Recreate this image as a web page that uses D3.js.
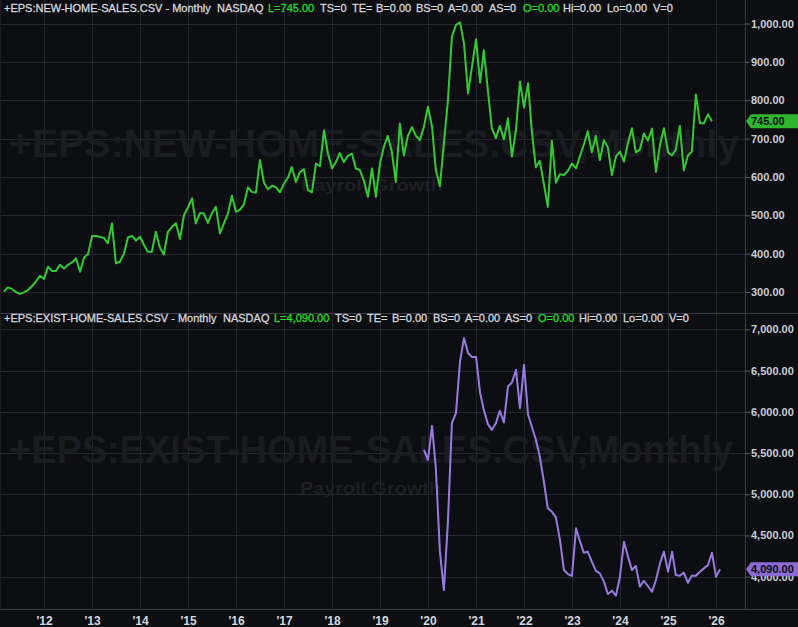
<!DOCTYPE html>
<html><head><meta charset="utf-8">
<script src="https://cdn.jsdelivr.net/npm/d3@7"></script>
<style>
html,body{margin:0;padding:0;background:#0d0e11;}
svg{display:block;}
text{font-family:"Liberation Sans",Arial,sans-serif;}
</style></head>
<body>
<svg id="chart" width="798" height="627"></svg>
<script>
// ---------- DATA ----------
// New home sales, monthly, starting Mar 2011 (thousands, SAAR)
const newHomeStart = [2011, 2];
const newHomeSales = [
  301, 312, 308, 300, 295, 299, 305, 315, 328, 342,
  334, 366, 355, 355, 371, 361, 371, 377, 388, 353, 390, 399,
  446, 446, 444, 441, 427, 479, 375, 379, 401, 442, 446, 434,
  444, 422, 405, 405, 457, 416, 398, 457, 470, 479, 438, 500,
  521, 544, 479, 505, 505, 480, 505, 522, 453, 479, 505, 551,
  509, 515, 528, 573, 561, 559, 644, 585, 568, 577, 573, 560,
  583, 599, 626, 587, 612, 620, 566, 560, 635, 628, 721, 661,
  622, 640, 662, 639, 655, 661, 622, 618, 590, 548, 622, 548,
  636, 680, 707, 666, 587, 739, 656, 707, 730, 707, 696, 731,
  783, 731, 618, 576, 687, 800, 965, 996, 1003, 949, 818, 887,
  959, 846, 930, 826, 727, 701, 733, 698, 753, 653, 723, 849,
  781, 844, 721, 625, 642, 582, 522, 694, 585, 607, 605, 616,
  635, 622, 653, 684, 719, 664, 707, 644, 696, 677, 605, 653,
  666, 640, 687, 727, 664, 671, 713, 695, 726, 613, 684, 727,
  664, 656, 671, 733, 617, 656, 666, 815, 740, 740, 763, 745
];
// Existing home sales, monthly, starting Dec 2019 (thousands, SAAR)
const existStart = [2019, 11];
const existHomeSales = [
  5538,
  5417, 5829, 5316, 4304, 3838, 4667, 5862, 5983, 6610, 6893, 6712, 6663,
  6663, 6226, 6024, 5850, 5781, 5862, 6012, 5870, 6307, 6355, 6509, 6044,
  6570, 5963, 5821, 5660, 5457, 5154, 4830, 4789, 4716, 4450, 4081, 4033,
  4009, 4587, 4437, 4291, 4304, 4182, 4073, 4041, 3940, 3790, 3830, 3769,
  4000, 4425, 4251, 4081, 4130, 3879, 3951, 3887, 3818, 3960, 4163, 4304,
  4061, 4304, 4020, 4012, 4049, 3927, 4012, 4012, 4061, 4101, 4142, 4291,
  4000, 4090
];
const topTicks = [300, 400, 500, 600, 700, 800, 900, 1000];
const botTicks = [4000, 4500, 5000, 5500, 6000, 6500, 7000];
const yearTicks = [2012,2013,2014,2015,2016,2017,2018,2019,2020,2021,2022,2023,2024,2025,2026];
const topHeader = [
  ["+EPS:NEW-HOME-SALES.CSV - Monthly", 4, "w"], ["NASDAQ", 217, "w"], ["L=745.00", 268, "g"],
  ["TS=0", 320, "w"], ["TE=", 352, "w"], ["B=0.00", 376, "w"], ["BS=0", 416, "w"],
  ["A=0.00", 448, "w"], ["AS=0", 489, "w"], ["O=0.00", 523, "g"], ["Hi=0.00", 563, "w"],
  ["Lo=0.00", 607, "w"], ["V=0", 653, "w"]
];
const botHeader = [
  ["+EPS:EXIST-HOME-SALES.CSV - Monthly", 4, "w"], ["NASDAQ", 223, "w"], ["L=4,090.00", 274, "g"],
  ["TS=0", 335, "w"], ["TE=", 367, "w"], ["B=0.00", 392, "w"], ["BS=0", 433, "w"],
  ["A=0.00", 465, "w"], ["AS=0", 505, "w"], ["O=0.00", 538, "g"], ["Hi=0.00", 579, "w"],
  ["Lo=0.00", 623, "w"], ["V=0", 669, "w"]
];

// ---------- LAYOUT ----------
const W = 798, H = 627, AXX = 745;
const topPanel = {y0: 0, y1: 313};
const botPanel = {y0: 314, y1: 609};
const BG = "#0d0e11", GRID = "#24262d", BORDER = "#3a3d45";
const GREEN = "#34c934", PURPLE = "#9a7ae0", TXT = "#d3d7df";

const svg = d3.select("#chart");
svg.append("rect").attr("width", W).attr("height", H).attr("fill", BG);

const x = d3.scaleUtc()
  .domain([new Date(Date.UTC(2012,0,1)), new Date(Date.UTC(2026,0,1))])
  .range([44, 716]);
const yTop = d3.scaleLinear().domain([300, 1000]).range([292, 23.5]);
const yBot = d3.scaleLinear().domain([4000, 7000]).range([576.7, 329.3]);

const newData = newHomeSales.map((v, i) => ({d: new Date(Date.UTC(newHomeStart[0], newHomeStart[1] + i, 1)), v}));
const exData = existHomeSales.map((v, i) => ({d: new Date(Date.UTC(existStart[0], existStart[1] + i, 1)), v}));
const yearDates = yearTicks.map(y => new Date(Date.UTC(y,0,1)));

// clip paths
const defs = svg.append("defs");
defs.append("clipPath").attr("id","clipTop").append("rect")
  .attr("x",0).attr("y",topPanel.y0).attr("width",AXX).attr("height",topPanel.y1-topPanel.y0);
defs.append("clipPath").attr("id","clipBot").append("rect")
  .attr("x",0).attr("y",botPanel.y0).attr("width",AXX).attr("height",botPanel.y1-botPanel.y0);

// grid
const grid = svg.append("g");
function hGrid(scale, ticks) {
  grid.selectAll(null).data(ticks).enter().append("line")
    .attr("x1", 0).attr("x2", AXX)
    .attr("y1", d => Math.round(scale(d)) + 0.5).attr("y2", d => Math.round(scale(d)) + 0.5)
    .attr("stroke", GRID).attr("stroke-width", 1);
}
hGrid(yTop, topTicks);
hGrid(yBot, botTicks);
grid.selectAll(null).data(yearDates).enter().append("line")
  .attr("x1", d => Math.round(x(d)) + 0.5).attr("x2", d => Math.round(x(d)) + 0.5)
  .attr("y1", 0).attr("y2", botPanel.y1)
  .attr("stroke", GRID).attr("stroke-width", 1);

// watermarks
const wm = svg.append("g").attr("font-weight", "bold");
wm.append("text").attr("x", 9).attr("y", 157).attr("font-size", 39)
  .attr("textLength", 730).attr("lengthAdjust", "spacingAndGlyphs")
  .attr("fill", "#1a1c21").text("+EPS:NEW-HOME-SALES.CSV,Monthly");
wm.append("text").attr("x", 301).attr("y", 191).attr("font-size", 17)
  .attr("textLength", 142).attr("lengthAdjust", "spacingAndGlyphs")
  .attr("fill", "#1d1f25").text("Payroll Growth");
wm.append("text").attr("x", 9).attr("y", 462.5).attr("font-size", 39)
  .attr("textLength", 724).attr("lengthAdjust", "spacingAndGlyphs")
  .attr("fill", "#1a1c21").text("+EPS:EXIST-HOME-SALES.CSV,Monthly");
wm.append("text").attr("x", 300).attr("y", 494).attr("font-size", 17)
  .attr("textLength", 141).attr("lengthAdjust", "spacingAndGlyphs")
  .attr("fill", "#1d1f25").text("Payroll Growth");

// borders
svg.append("line").attr("x1",0).attr("x2",W).attr("y1",313.5).attr("y2",313.5).attr("stroke",BORDER);
svg.append("line").attr("x1",0).attr("x2",W).attr("y1",609.5).attr("y2",609.5).attr("stroke",BORDER);
svg.append("line").attr("x1",AXX+0.5).attr("x2",AXX+0.5).attr("y1",0).attr("y2",609).attr("stroke",BORDER);
svg.append("line").attr("x1",0.5).attr("x2",0.5).attr("y1",0).attr("y2",609).attr("stroke","#1c1e24");

// lines
const lineTop = d3.line().x(d => x(d.d)).y(d => yTop(d.v));
const lineBot = d3.line().x(d => x(d.d)).y(d => yBot(d.v));
svg.append("path").datum(newData).attr("clip-path","url(#clipTop)")
  .attr("d", lineTop).attr("fill","none").attr("stroke",GREEN).attr("stroke-width",2)
  .attr("stroke-linejoin","round");
svg.append("path").datum(exData).attr("clip-path","url(#clipBot)")
  .attr("d", lineBot).attr("fill","none").attr("stroke",PURPLE).attr("stroke-width",2)
  .attr("stroke-linejoin","round");

// y axes
function styleAxis(g) {
  g.select(".domain").remove();
  g.selectAll(".tick line").attr("stroke", "#5a5e68");
  g.selectAll(".tick text").attr("fill", "#c9cdd5").attr("font-size", 11)
    .attr("font-weight","bold").attr("font-family", "Liberation Sans, Arial, sans-serif");
}
svg.append("g").attr("transform", `translate(${AXX},0)`)
  .call(d3.axisRight(yTop).tickValues(topTicks).tickFormat(d3.format(",.2f")).tickSize(5).tickPadding(1))
  .call(styleAxis);
svg.append("g").attr("transform", `translate(${AXX},0)`)
  .call(d3.axisRight(yBot).tickValues(botTicks).tickFormat(d3.format(",.2f")).tickSize(5).tickPadding(1))
  .call(styleAxis);

// x axis
const xa = svg.append("g").attr("transform", `translate(0,${botPanel.y1})`)
  .call(d3.axisBottom(x).tickValues(yearDates).tickFormat(d3.utcFormat("'%y")).tickSize(0).tickPadding(7));
xa.select(".domain").remove();
xa.selectAll(".tick text").attr("fill", "#d3d7df").attr("font-size", 12).attr("font-weight","bold")
  .attr("font-family", "'Liberation Sans Narrow','Arial Narrow','Liberation Sans',sans-serif");

// value tags
function tag(yv, label, fill) {
  const g = svg.append("g");
  const h = 14, x0 = AXX + 1;
  g.append("path")
    .attr("d", `M${x0},${yv} L${x0+5},${yv-h/2} L${W},${yv-h/2} L${W},${yv+h/2} L${x0+5},${yv+h/2} Z`)
    .attr("fill", fill);
  g.append("text").attr("x", x0 + 5).attr("y", yv + 4).attr("font-size", 11).attr("font-weight","bold")
    .attr("fill", "#0b0c0e").text(label);
}
tag(yTop(newHomeSales[newHomeSales.length-1]), d3.format(",.2f")(newHomeSales[newHomeSales.length-1]), "#2fb82f");
tag(yBot(existHomeSales[existHomeSales.length-1]), d3.format(",.2f")(existHomeSales[existHomeSales.length-1]), "#8c6bd6");

// headers
function header(items, yb) {
  const g = svg.append("g").attr("font-size", 11);
  items.forEach(([t, xx, c]) => {
    const col = c === "g" ? "#22dd22" : TXT;
    g.append("text").attr("x", xx).attr("y", yb).attr("fill", col)
      .attr("stroke", col).attr("stroke-width", 0.3).text(t);
  });
}
header(topHeader, 11.5);
header(botHeader, 322);
</script>
</body></html>
